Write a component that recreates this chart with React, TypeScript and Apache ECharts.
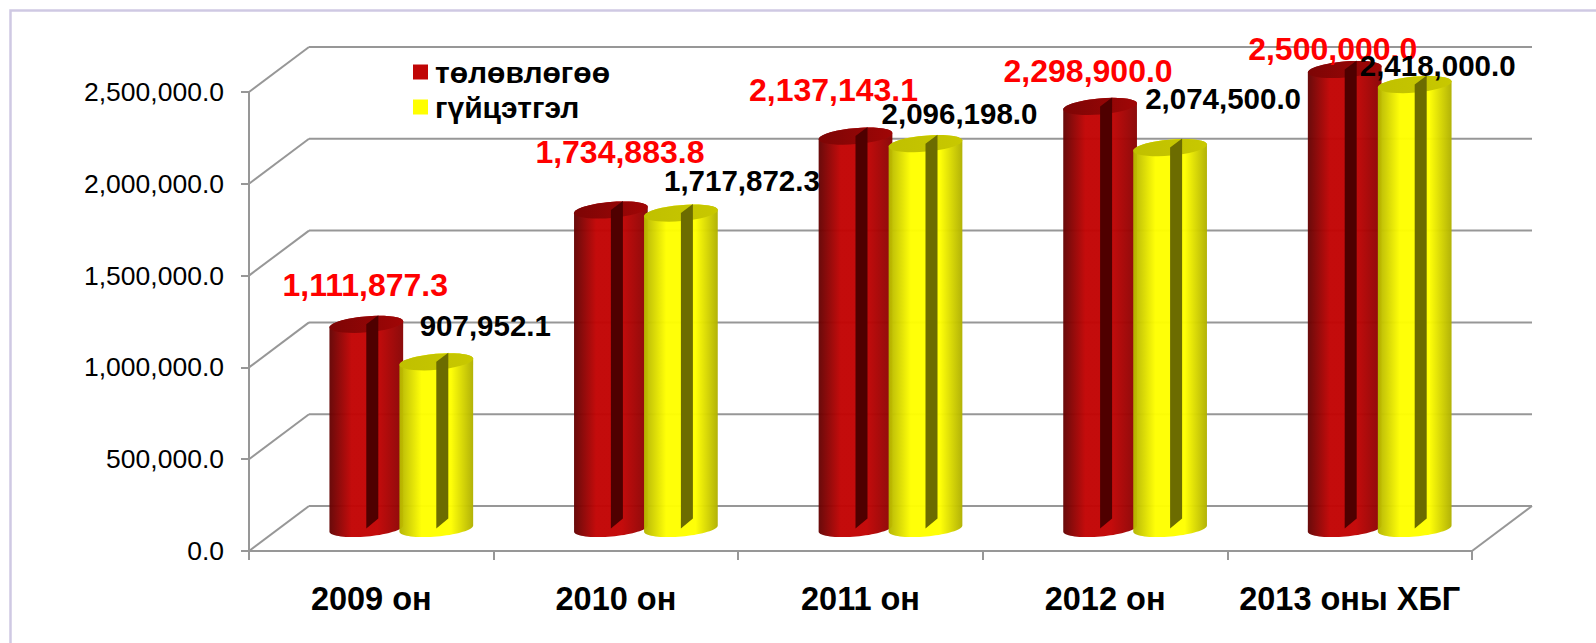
import React, { useEffect, useRef } from "react";
import * as echarts from "echarts";

const categories = ["2009 он", "2010 он", "2011 он", "2012 он", "2013 оны ХБГ"];
const planValues = [1111877.3, 1734883.8, 2137143.1, 2298900.0, 2500000.0];
const actualValues = [907952.1, 1717872.3, 2096198.0, 2074500.0, 2418000.0];
const yTicks = [0, 500000, 1000000, 1500000, 2000000, 2500000];
const planName = "төлөвлөгөө";
const actualName = "гүйцэтгэл";

const fmt = (v: number) =>
  v.toLocaleString("en-US", { minimumFractionDigits: 1, maximumFractionDigits: 1 });

const FONT = "'Liberation Sans', Arial, sans-serif";
const GRID = "#979797";
const DEPTH_X = 60;
const DEPTH_Y = -45;
const RX = 37;
const RY = 8;
const TILT = (-5 * Math.PI) / 180;
const BAR_SHIFT = 35;

// Offsets of the data labels from their bar's top, in pixels.
const planLabelOffset = [[-1, -39], [9, -58], [-22, -46], [-12, -35], [-12, -21]];
const actualLabelOffset = [[49, -36], [61, -33], [34, -30], [53, -49], [23, -19]];

function ellipsePoints(cx: number, cy: number, from: number, to: number) {
  const pts: number[][] = [];
  const n = 36;
  for (let i = 0; i <= n; i++) {
    const t = from + ((to - from) * i) / n;
    pts.push([
      cx + RX * Math.cos(t) * Math.cos(TILT) - RY * Math.sin(t) * Math.sin(TILT),
      cy + RX * Math.cos(t) * Math.sin(TILT) + RY * Math.sin(t) * Math.cos(TILT),
    ]);
  }
  return pts;
}

function gradient(stops: [number, string][]) {
  return new echarts.graphic.LinearGradient(
    0, 0, 1, 0,
    stops.map(([offset, color]) => ({ offset, color }))
  );
}

function cylinder(shift: number, body: [number, string][], cap: [number, string][], slit: string) {
  return (_: any, api: any) => {
    const top = api.coord([api.value(0), api.value(1)]);
    const base = api.coord([api.value(0), 0]);
    const cx = top[0] + DEPTH_X / 2 + shift;
    const yTop = top[1] + DEPTH_Y / 2;
    const yBase = base[1] + DEPTH_Y / 2;
    const outline = [
      ...ellipsePoints(cx, yBase, Math.PI, 0),
      ...ellipsePoints(cx, yTop, 0, -Math.PI),
    ];
    return {
      type: "group",
      children: [
        { type: "polygon", shape: { points: outline }, style: { fill: gradient(body), opacity: 0.97 } },
        { type: "polygon", shape: { points: ellipsePoints(cx, yTop, 0, Math.PI * 2) }, style: { fill: gradient(cap) } },
        {
          type: "polygon",
          shape: {
            points: [
              [cx, yTop],
              [cx + 12, yTop - 9],
              [cx + 12, yBase - 10],
              [cx, yBase],
            ],
          },
          style: { fill: slit },
        },
      ],
    };
  };
}

function valueLabel(shift: number, offsets: number[][], color: string, size: number) {
  return (_: any, api: any) => {
    const i = api.value(0);
    const v = api.value(1);
    const p = api.coord([i, v]);
    return {
      type: "text",
      style: {
        text: fmt(v),
        x: p[0] + DEPTH_X / 2 + shift + offsets[i][0],
        y: p[1] + DEPTH_Y / 2 + offsets[i][1],
        fill: color,
        fontFamily: FONT,
        fontWeight: "bold",
        fontSize: size,
        textAlign: "center",
        textVerticalAlign: "middle",
      },
    };
  };
}

function wallLines(params: any, api: any) {
  const v = api.value(0);
  const sys = params.coordSys;
  const left = sys.x;
  const right = sys.x + sys.width;
  const y = api.coord([0, v])[1];
  const lineStyle = { stroke: GRID, lineWidth: 2 };
  const children: any[] = [
    { type: "line", shape: { x1: left, y1: y, x2: left + DEPTH_X, y2: y + DEPTH_Y }, style: lineStyle },
    { type: "line", shape: { x1: left + DEPTH_X, y1: y + DEPTH_Y, x2: right + DEPTH_X, y2: y + DEPTH_Y }, style: lineStyle },
  ];
  if (v === 0) {
    children.push({ type: "line", shape: { x1: right, y1: y, x2: right + DEPTH_X, y2: y + DEPTH_Y }, style: lineStyle });
  }
  return { type: "group", children };
}

export default function App() {
  const ref = useRef<HTMLDivElement>(null);
  useEffect(() => {
    const chart = echarts.init(ref.current!, null, { renderer: "svg" });
    const planData = planValues.map((v, i) => [i, v]);
    const actualData = actualValues.map((v, i) => [i, v]);
    chart.setOption({
      animation: false,
      backgroundColor: "#ffffff",
      grid: { left: 249, top: 92, width: 1223, height: 459 },
      legend: {
        left: 413,
        top: 57,
        padding: 0,
        orient: "vertical",
        itemWidth: 15,
        itemHeight: 15,
        itemGap: 5,
        selectedMode: false,
        data: [
          { name: planName, icon: "rect" },
          { name: actualName, icon: "rect" },
        ],
        textStyle: { fontFamily: FONT, fontWeight: "bold", fontSize: 30, color: "#000", padding: [0, 0, 0, 2] },
      },
      graphic: [
        {
          type: "polyline",
          silent: true,
          shape: { points: [[10.5, 643], [10.5, 10.5], [1596, 10.5]] },
          style: { stroke: "#cfc9e3", lineWidth: 2.5, fill: "none" },
        },
      ],
      xAxis: {
        type: "category",
        data: categories,
        axisLine: { show: true, lineStyle: { color: GRID, width: 2 } },
        axisTick: { show: true, alignWithLabel: false, length: 9, lineStyle: { color: GRID, width: 2 } },
        axisLabel: { margin: 31, fontFamily: FONT, fontWeight: "bold", fontSize: 32.5, color: "#000", interval: 0 },
      },
      yAxis: {
        type: "value",
        min: 0,
        max: 2500000,
        interval: 500000,
        splitLine: { show: false },
        axisLine: { show: true, lineStyle: { color: GRID, width: 2 } },
        axisTick: { show: true, length: 8, lineStyle: { color: GRID, width: 2 } },
        axisLabel: { margin: 25, fontFamily: FONT, fontSize: 26.5, color: "#000", formatter: (v: number) => fmt(v) },
      },
      series: [
        {
          type: "custom",
          name: "grid",
          z: 1,
          silent: true,
          data: yTicks.map((v) => [v]),
          encode: { y: 0 },
          renderItem: wallLines,
        },
        {
          type: "custom",
          name: planName,
          z: 2,
          itemStyle: { color: "#c00606" },
          data: planData,
          encode: { x: 0, y: 1 },
          renderItem: cylinder(
            -BAR_SHIFT,
            [[0, "#640303"], [0.3, "#c20404"], [0.65, "#c20404"], [1, "#880404"]],
            [[0, "#7d0505"], [1, "#a00606"]],
            "#4f0000"
          ),
        },
        {
          type: "custom",
          name: actualName,
          z: 3,
          itemStyle: { color: "#ffff00" },
          data: actualData,
          encode: { x: 0, y: 1 },
          renderItem: cylinder(
            BAR_SHIFT,
            [[0, "#b4b400"], [0.3, "#ffff00"], [0.7, "#ffff00"], [1, "#b0b000"]],
            [[0, "#c0c000"], [1, "#c8c800"]],
            "#6c6c00"
          ),
        },
        {
          type: "custom",
          name: "plan labels",
          z: 4,
          silent: true,
          data: planData,
          encode: { x: 0, y: 1 },
          renderItem: valueLabel(-BAR_SHIFT, planLabelOffset, "#ff0000", 32),
        },
        {
          type: "custom",
          name: "actual labels",
          z: 5,
          silent: true,
          data: actualData,
          encode: { x: 0, y: 1 },
          renderItem: valueLabel(BAR_SHIFT, actualLabelOffset, "#000000", 29.5),
        },
      ],
    });
    return () => chart.dispose();
  }, []);
  return (
    <div
      ref={ref}
      style={{ position: "absolute", left: 0, top: 0, width: 1596, height: 643 }}
    />
  );
}
